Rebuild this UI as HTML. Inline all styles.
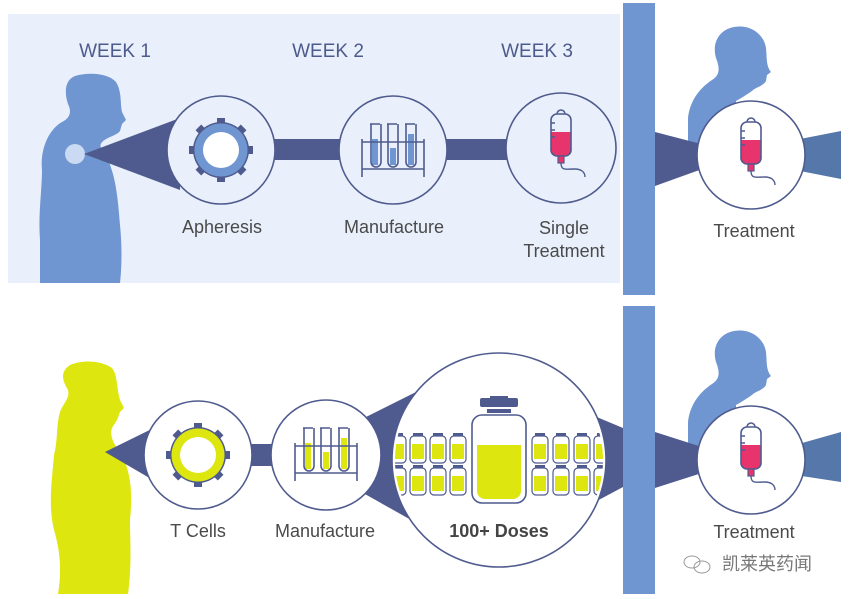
<!DOCTYPE html>
<html><head><meta charset="utf-8"><style>
html,body{margin:0;padding:0;background:#fff;}
svg{display:block;}
text{font-family:"Liberation Sans","Noto Sans CJK SC",sans-serif;}
</style></head><body>
<svg width="855" height="599" viewBox="0 0 855 599" xmlns="http://www.w3.org/2000/svg">
<defs>
  <clipPath id="bigc"><circle cx="499" cy="460" r="104"/></clipPath>
  <g id="tubes">
    <g fill="none" stroke="#4f5b8e" stroke-width="1.6">
      <path d="M-23,-25 h10 M-22,-25 v38 a5,5 0 0 0 10,0 v-38"/>
      <path d="M-5,-25 h10 M-4,-25 v38 a5,5 0 0 0 10,0 v-38" transform="translate(-1,0)"/>
      <path d="M13,-25 h10 M14,-25 v38 a5,5 0 0 0 10,0 v-38" transform="translate(-1,0)"/>
      <path d="M-31,-7 h62 M-31,20 h62 M-31,-10 v38 M31,-10 v38"/>
    </g>
  </g>
  <g id="iv">
    <path d="M-4,-26 a4,4 0 0 1 8,0" fill="none" stroke="#4f5b8e" stroke-width="1.6"/>
    <path d="M-10,-8 h20 v18 a6,6 0 0 1 -6,6 h-8 a6,6 0 0 1 -6,-6z" fill="#e8346d"/>
    <rect x="-10" y="-26" width="20" height="42" rx="6" fill="none" stroke="#4f5b8e" stroke-width="1.6"/>
    <path d="M-10,-17 h4 M-10,-10 h4 M-10,-3 h4" stroke="#4f5b8e" stroke-width="1.4"/>
    <rect x="-3" y="16" width="6" height="7" fill="#e8346d" stroke="#4f5b8e" stroke-width="1.2"/>
    <path d="M0,23 c0,8 5,6 14,6 c6,0 10,3 10,8" fill="none" stroke="#4f5b8e" stroke-width="1.4"/>
  </g>
  <g id="vial">
    <rect x="-5" y="-15" width="10" height="3" fill="#4f5b8e"/>
    <rect x="-8" y="-12" width="16" height="27" rx="4" fill="#fff" stroke="#4f5b8e" stroke-width="1.2"/>
    <rect x="-6" y="-4" width="12" height="15" fill="#dde60f"/>
  </g>
</defs>

<rect x="8" y="14" width="612" height="269" fill="#e9f0fb"/>
<rect x="623" y="3" width="32" height="292" fill="#7096d2"/>
<rect x="623" y="306" width="32" height="288" fill="#7096d2"/>

<path fill="#7096d1" d="M40,283 L40,240 C38,215 42,190 42,170 C40,150 48,130 62,122 C70,118 72,112 68,104 C64,92 65,80 75,76 C88,72 108,73 116,82 C122,92 120,102 122,112 L126,120 L122,124 L120,131 C118,134 112,136 108,138 C100,142 98,146 104,152 C116,172 118,200 120,225 C122,245 122,265 120,283 Z"/>
<circle cx="75" cy="154" r="10" fill="#c9daf2"/>
<polygon points="84,154 180,118 180,190" fill="#4f5b8e"/>
<rect x="270" y="139" width="72" height="21" fill="#4f5b8e"/>
<rect x="444" y="139" width="68" height="21" fill="#4f5b8e"/>

<circle cx="221" cy="150" r="54" fill="#e9f0fb" stroke="#4f5b8e" stroke-width="1.6"/>
<circle cx="393" cy="150" r="54" fill="#e9f0fb" stroke="#4f5b8e" stroke-width="1.6"/>
<circle cx="561" cy="148" r="55" fill="#e9f0fb" stroke="#4f5b8e" stroke-width="1.6"/>

<g transform="translate(221,150)">
  <g fill="#4f5b8e">
    <rect x="-4" y="-32" width="8" height="6"/><rect x="-4" y="26" width="8" height="6"/>
    <rect x="-32" y="-4" width="6" height="8"/><rect x="26" y="-4" width="6" height="8"/>
    <rect x="-4" y="-32" width="8" height="6" transform="rotate(45)"/><rect x="-4" y="-32" width="8" height="6" transform="rotate(135)"/>
    <rect x="-4" y="-32" width="8" height="6" transform="rotate(225)"/><rect x="-4" y="-32" width="8" height="6" transform="rotate(315)"/>
  </g>
  <circle r="28" fill="#4f5b8e"/><circle r="26.5" fill="#7096d1"/><circle r="18" fill="#fff"/>
</g>
<g transform="translate(393,149)">
  <rect x="-21" y="-10" width="6" height="26" fill="#7096d1"/>
  <rect x="-3" y="-1" width="6" height="17" fill="#7096d1"/>
  <rect x="15" y="-15" width="6" height="31" fill="#7096d1"/>
  <use href="#tubes"/>
</g>
<use href="#iv" transform="translate(561,140)"/>

<path fill="#7096d1" d="M688,150 L688,118 C690,100 700,88 712,80 C720,75 720,68 716,58 C712,44 718,30 734,27 C750,24 764,34 766,48 C767,58 766,66 771,72 L767,75 L766,81 C762,87 756,87 752,91 C746,95 740,99 736,101 L736,150 Z"/>
<polygon points="655,132 705,145 705,168 655,186" fill="#4f5b8e"/>
<polygon points="795,140 841,131 841,179 795,170" fill="#5577aa"/>
<circle cx="751" cy="155" r="54" fill="#fff" stroke="#4f5b8e" stroke-width="1.6"/>
<use href="#iv" transform="translate(751,148)"/>

<g fill="#4d5a8c" font-size="19" text-anchor="middle">
  <text x="115" y="57">WEEK 1</text>
  <text x="328" y="57">WEEK 2</text>
  <text x="537" y="57">WEEK 3</text>
</g>
<g fill="#4a4a4a" font-size="18" text-anchor="middle">
  <text x="222" y="233">Apheresis</text>
  <text x="394" y="233">Manufacture</text>
  <text x="564" y="234">Single</text>
  <text x="564" y="257">Treatment</text>
  <text x="754" y="237">Treatment</text>
</g>

<path fill="#dde60f" d="M58,594 C62,570 60,550 54,530 C48,505 52,480 54,455 C58,440 56,425 60,412 C64,402 70,398 68,390 C62,380 60,372 70,365 C82,360 100,360 112,368 C118,376 116,386 120,400 L124,408 L120,412 L117,420 L112,428 C108,440 120,450 125,462 C132,480 132,500 130,520 C130,540 132,565 128,594 Z"/>
<polygon points="105,452 170,420 170,490" fill="#4f5b8e"/>
<rect x="245" y="444" width="30" height="22" fill="#4f5b8e"/>
<polygon points="340,430 420,390 420,525 340,480" fill="#4f5b8e"/>
<polygon points="580,410 623,428 623,487 580,510" fill="#4f5b8e"/>

<circle cx="198" cy="455" r="54" fill="#fff" stroke="#4f5b8e" stroke-width="1.6"/>
<circle cx="326" cy="455" r="55" fill="#fff" stroke="#4f5b8e" stroke-width="1.6"/>
<circle cx="499" cy="460" r="107" fill="#fff" stroke="#4f5b8e" stroke-width="1.6"/>

<g transform="translate(198,455)">
  <g fill="#4f5b8e">
    <rect x="-4" y="-32" width="8" height="6"/><rect x="-4" y="26" width="8" height="6"/>
    <rect x="-32" y="-4" width="6" height="8"/><rect x="26" y="-4" width="6" height="8"/>
    <rect x="-4" y="-32" width="8" height="6" transform="rotate(45)"/><rect x="-4" y="-32" width="8" height="6" transform="rotate(135)"/>
    <rect x="-4" y="-32" width="8" height="6" transform="rotate(225)"/><rect x="-4" y="-32" width="8" height="6" transform="rotate(315)"/>
  </g>
  <circle r="28" fill="#4f5b8e"/><circle r="26.5" fill="#dde60f"/><circle r="18" fill="#fff"/>
</g>
<g transform="translate(326,453)">
  <rect x="-21" y="-10" width="6" height="26" fill="#dde60f"/>
  <rect x="-3" y="-1" width="6" height="17" fill="#dde60f"/>
  <rect x="15" y="-15" width="6" height="31" fill="#dde60f"/>
  <use href="#tubes"/>
</g>

<g clip-path="url(#bigc)">
  <use href="#vial" x="398" y="448"/><use href="#vial" x="418" y="448"/><use href="#vial" x="438" y="448"/><use href="#vial" x="458" y="448"/>
  <use href="#vial" x="398" y="480"/><use href="#vial" x="418" y="480"/><use href="#vial" x="438" y="480"/><use href="#vial" x="458" y="480"/>
  <use href="#vial" x="540" y="448"/><use href="#vial" x="561" y="448"/><use href="#vial" x="582" y="448"/><use href="#vial" x="602" y="448"/>
  <use href="#vial" x="540" y="480"/><use href="#vial" x="561" y="480"/><use href="#vial" x="582" y="480"/><use href="#vial" x="602" y="480"/>
</g>
<g>
  <rect x="480" y="398" width="38" height="9" rx="2" fill="#4f5b8e"/>
  <rect x="490" y="396" width="18" height="4" fill="#4f5b8e"/>
  <rect x="487" y="409" width="24" height="4" fill="#4f5b8e"/>
  <rect x="472" y="415" width="54" height="88" rx="10" fill="#fff" stroke="#4f5b8e" stroke-width="1.6"/>
  <path d="M477,445 h44 v46 a8,8 0 0 1 -8,8 h-28 a8,8 0 0 1 -8,-8z" fill="#dde60f"/>
</g>

<path fill="#7096d1" d="M688,455 L688,422 C690,404 700,392 712,384 C720,379 720,372 716,362 C712,348 718,334 734,331 C750,328 764,338 766,352 C767,362 766,370 771,376 L767,379 L766,385 C762,391 756,391 752,395 C746,399 740,403 736,405 L736,455 Z"/>
<polygon points="655,432 705,448 705,472 655,488" fill="#4f5b8e"/>
<polygon points="795,445 841,432 841,482 795,475" fill="#5577aa"/>
<circle cx="751" cy="460" r="54" fill="#fff" stroke="#4f5b8e" stroke-width="1.6"/>
<use href="#iv" transform="translate(751,453)"/>

<g fill="#4a4a4a" font-size="18" text-anchor="middle">
  <text x="198" y="537">T Cells</text>
  <text x="325" y="537">Manufacture</text>
  <text x="499" y="537" font-weight="bold" fill="#444">100+ Doses</text>
  <text x="754" y="538">Treatment</text>
</g>
<g fill="none" stroke="#999" stroke-width="1">
  <ellipse cx="692" cy="562" rx="8" ry="6"/><ellipse cx="702" cy="567" rx="8" ry="6"/>
</g>
<text x="722" y="570" font-size="18" fill="#777" font-family="'Noto Sans CJK SC',sans-serif">凯莱英药闻</text>
</svg>
</body></html>
